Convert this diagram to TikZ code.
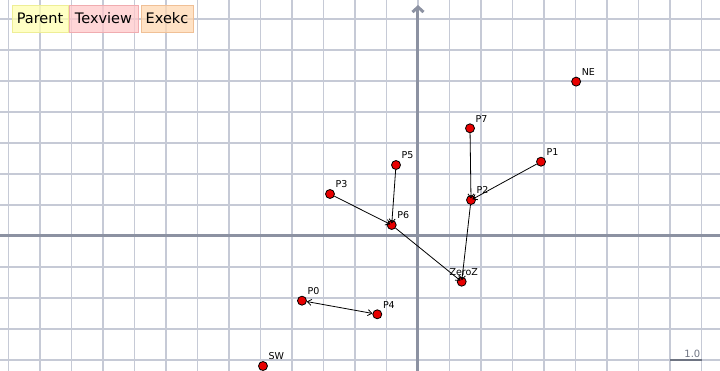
\documentclass[tikz,border=0pt]{standalone}
\usepackage{fontspec}
\setmainfont{DejaVu Sans}
\usetikzlibrary{arrows.meta}
\definecolor{gridc}{RGB}{198,202,214}
\definecolor{axisc}{RGB}{140,146,162}
\definecolor{scalec}{RGB}{110,116,130}
\definecolor{ptred}{RGB}{232,0,0}
\definecolor{parentc}{RGB}{255,255,176}
\definecolor{parentb}{RGB}{238,238,150}
\definecolor{texviewc}{RGB}{255,200,202}
\definecolor{texviewb}{RGB}{240,172,176}
\definecolor{exekcc}{RGB}{255,216,178}
\definecolor{exekcb}{RGB}{240,192,150}
\begin{document}
\begin{tikzpicture}[x=31.5pt,y=31pt,
  ptdot/.style={circle,fill=ptred,draw=black,line width=0.8pt,minimum size=9pt,inner sep=0pt},
  ptlabel/.style={anchor=south west,inner sep=0pt,font=\fontsize{9.5}{9.5}\selectfont},
  link/.style={-{Straight Barb[length=4pt,width=6pt]},line width=0.8pt,black,shorten >=1.5pt},
  dlink/.style={{Straight Barb[length=4pt,width=6pt]}-{Straight Barb[length=4pt,width=6pt]},line width=0.8pt,black},
  btn/.style={draw,line width=0.8pt,fill opacity=0.75,text opacity=1,minimum height=27pt,inner sep=0pt,font=\fontsize{14.5}{14.5}\selectfont}]
\useasboundingbox (-418pt,-135pt) rectangle (302pt,236pt);
% grid
\foreach \i in {-13,...,9} \draw[gridc,line width=1.2pt] (\i,-4.36) -- (\i,7.62);
\foreach \j in {-4,...,7} \draw[gridc,line width=1.2pt] (-13.28,\j) -- (9.59,\j);
% axes
\draw[axisc,line width=3pt] (-13.28,0) -- (9.59,0);
\draw[axisc,line width=3pt,-{Straight Barb[length=5pt,width=11pt]}] (0,-4.36) -- (0,7.45);
% scale bar
\coordinate (sa) at (8,-4);
\coordinate (sb) at (9,-4);
\draw[scalec,line width=2.5pt] (sa) -- (sb);
\node[anchor=south east,inner sep=0pt,text=scalec,font=\fontsize{10}{10}\selectfont] (scl) at ([shift={(-1pt,2.5pt)}]sb) {1.0};
% buttons
\node[btn,fill=parentc,draw=parentb,minimum width=56pt] (bParent) at (-378pt,217.5pt) {Parent};
\node[btn,fill=texviewc,draw=texviewb,minimum width=69pt] (bTexview) at (-314.5pt,217.5pt) {Texview};
\node[btn,fill=exekcc,draw=exekcb,minimum width=52pt] (bExekc) at (-251pt,217.5pt) {Exekc};
% points
\node[ptdot] (P0) at (-3.683,-2.087) {};
\node[ptdot] (P4) at (-1.292,-2.526) {};
\node[ptdot] (P5) at (-0.698,2.290) {};
\node[ptdot] (P6) at (-0.835,0.355) {};
\node[ptdot] (P7) at (1.651,3.474) {};
\node[ptdot] (P1) at (3.905,2.397) {};
\node[ptdot] (P2) at (1.683,1.161) {};
\node[ptdot] (ZZ) at (1.387,-1.474) {};
\node[ptdot] (NE) at (5.02,4.98) {};
\node[ptdot] (P3) at (-2.794,1.355) {};
\node[ptdot] (SW) at (-4.921,-4.194) {};
% labels
\foreach \p/\t in {P0/P0,P4/P4,P5/P5,P6/P6,P7/P7,P1/P1,P2/P2,NE/NE,P3/P3,SW/SW}
  \node[ptlabel] (\p l) at ([shift={(5.5pt,6pt)}]\p.center) {\t};
\node[anchor=south,inner sep=0pt,font=\fontsize{9.5}{9.5}\selectfont] (ZZl) at ([shift={(2pt,6pt)}]ZZ.center) {ZeroZ};
% connectors
\draw[link] (P3) -- (P6.center);
\draw[link] (P5) -- (P6.center);
\draw[link] (P6) -- (ZZ.center);
\draw[link] (P7) -- (P2.center);
\draw[link] (P1) -- (P2.center);
\draw[link] (P2) -- (ZZ.center);
\draw[dlink] (P0) -- (P4);
\end{tikzpicture}
\end{document}
